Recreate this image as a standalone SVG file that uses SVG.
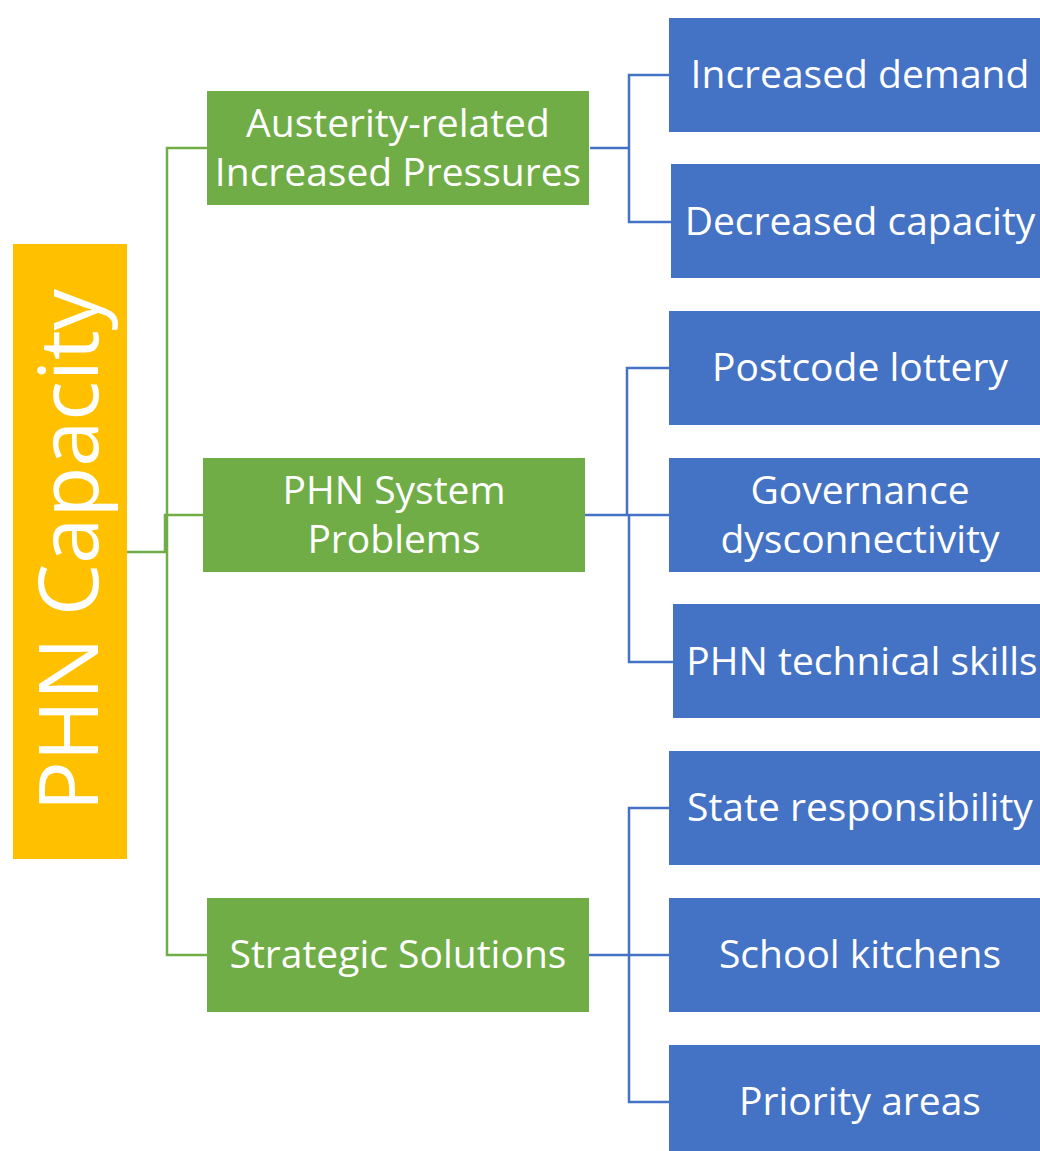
<svg xmlns="http://www.w3.org/2000/svg" width="1040" height="1151" viewBox="0 0 1040 1151">
<style>
.t{font-family:"Open Sans","Liberation Sans",sans-serif;fill:#fff;text-anchor:middle;font-size:39px}
.g{fill:#70AD47}
.b{fill:#4472C4}
.cg{stroke:#70AD47;stroke-width:2.5;fill:none}
.cb{stroke:#4472C4;stroke-width:2.5;fill:none}
</style>
<rect width="1040" height="1151" fill="#fff"/>
<g id="connectors">
<path class="cg" d="M207,148 H167 V955 H207"/>
<path class="cg" d="M127,552 H165 V515 H203"/>
<path class="cb" d="M590,148 H629"/>
<path class="cb" d="M669,75 H629 V222 H671"/>
<path class="cb" d="M585,515 H669"/>
<path class="cb" d="M669,368 H627 V515"/>
<path class="cb" d="M629,515 V662 H673"/>
<path class="cb" d="M589,955 H669"/>
<path class="cb" d="M669,808 H629 V1102 H669"/>
</g>
<g id="root">
<rect x="13" y="244" width="114" height="615" fill="#FFC000"/>
<text class="t" style="font-size:83px" transform="translate(98,550) rotate(-90)">PHN Capacity</text>
</g>
<g id="austerity">
<rect class="g" x="207" y="91" width="382" height="114"/>
<text class="t" x="398" y="137">Austerity-related</text>
<text class="t" x="398" y="186">Increased Pressures</text>
</g>
<g id="system">
<rect class="g" x="203" y="458" width="382" height="114"/>
<text class="t" x="394" y="504">PHN System</text>
<text class="t" x="394" y="553">Problems</text>
</g>
<g id="strategic">
<rect class="g" x="207" y="898" width="382" height="114"/>
<text class="t" x="398" y="968">Strategic Solutions</text>
</g>
<g id="increased-demand">
<rect class="b" x="669" y="18" width="382" height="114"/>
<text class="t" x="860" y="88">Increased demand</text>
</g>
<g id="decreased-capacity">
<rect class="b" x="671" y="164" width="382" height="114"/>
<text class="t" x="860" y="235">Decreased capacity</text>
</g>
<g id="postcode">
<rect class="b" x="669" y="311" width="382" height="114"/>
<text class="t" x="860" y="381">Postcode lottery</text>
</g>
<g id="governance">
<rect class="b" x="669" y="458" width="382" height="114"/>
<text class="t" x="860" y="504">Governance</text>
<text class="t" x="860" y="553">dysconnectivity</text>
</g>
<g id="technical">
<rect class="b" x="673" y="604" width="382" height="114"/>
<text class="t" x="862" y="675">PHN technical skills</text>
</g>
<g id="state">
<rect class="b" x="669" y="751" width="382" height="114"/>
<text class="t" x="860" y="821">State responsibility</text>
</g>
<g id="kitchens">
<rect class="b" x="669" y="898" width="382" height="114"/>
<text class="t" x="860" y="968">School kitchens</text>
</g>
<g id="priority">
<rect class="b" x="669" y="1045" width="382" height="114"/>
<text class="t" x="860" y="1115">Priority areas</text>
</g>
</svg>
